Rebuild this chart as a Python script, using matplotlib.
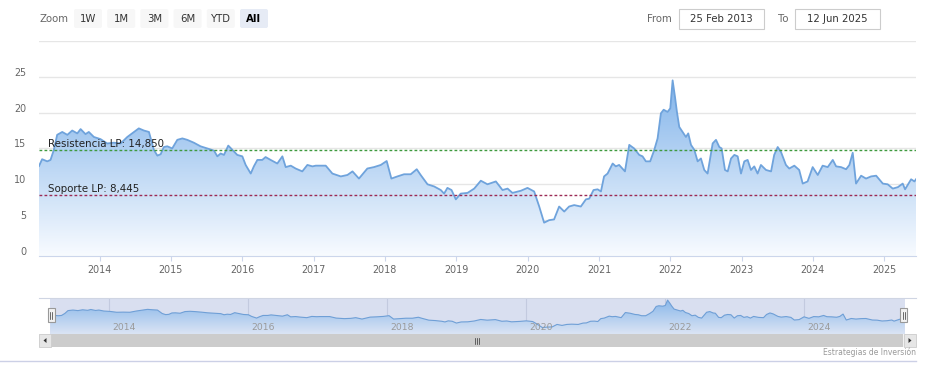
import matplotlib
matplotlib.use('Agg')
import matplotlib.pyplot as plt
import matplotlib.dates as mdates
from matplotlib.colors import LinearSegmentedColormap
from matplotlib.patches import Rectangle, FancyBboxPatch, Polygon
from matplotlib.transforms import ScaledTranslation
import numpy as np
import pandas as pd

# Precio (lectura aproximada del grafico)
dates = ['2013-02-25', '2013-03-13', '2013-04-08', '2013-04-25', '2013-05-12', '2013-05-29',
         '2013-06-24', '2013-07-20', '2013-08-14', '2013-09-09', '2013-09-26', '2013-10-21',
         '2013-11-07', '2013-12-03', '2014-01-06', '2014-02-09', '2014-03-15', '2014-04-19',
         '2014-05-23', '2014-06-26', '2014-07-21', '2014-08-16', '2014-09-11', '2014-10-06',
         '2014-10-24', '2014-11-10', '2014-11-26', '2014-12-14', '2015-01-08', '2015-02-03',
         '2015-03-01', '2015-03-26', '2015-04-29', '2015-06-02', '2015-07-07', '2015-08-10',
         '2015-08-27', '2015-09-13', '2015-09-30', '2015-10-22', '2015-11-12', '2015-12-07',
         '2016-01-02', '2016-01-19', '2016-02-14', '2016-03-01', '2016-03-19', '2016-04-13',
         '2016-04-30', '2016-05-26', '2016-06-29', '2016-07-25', '2016-08-11', '2016-09-06',
         '2016-10-01', '2016-11-04', '2016-11-30', '2016-12-26', '2017-01-12', '2017-03-04',
         '2017-04-07', '2017-05-20', '2017-06-23', '2017-07-19', '2017-08-21', '2017-10-03',
         '2017-11-06', '2017-12-11', '2018-01-10', '2018-02-03', '2018-03-06', '2018-04-09',
         '2018-05-13', '2018-06-13', '2018-07-03', '2018-08-07', '2018-09-10', '2018-10-14',
         '2018-10-31', '2018-11-17', '2018-12-08', '2018-12-30', '2019-01-24', '2019-02-28',
         '2019-04-03', '2019-05-07', '2019-06-10', '2019-07-23', '2019-08-26', '2019-09-21',
         '2019-10-16', '2019-11-28', '2020-01-01', '2020-02-04', '2020-03-01', '2020-03-26',
         '2020-04-21', '2020-05-16', '2020-06-11', '2020-07-07', '2020-08-01', '2020-08-27',
         '2020-09-30', '2020-10-26', '2020-11-12', '2020-12-04', '2020-12-25', '2021-01-11',
         '2021-01-27', '2021-02-14', '2021-03-12', '2021-03-28', '2021-04-14', '2021-05-14',
         '2021-06-05', '2021-06-30', '2021-07-26', '2021-08-12', '2021-08-29', '2021-09-20',
         '2021-10-11', '2021-10-28', '2021-11-14', '2021-11-28', '2021-12-18', '2022-01-01',
         '2022-01-13', '2022-01-25', '2022-02-04', '2022-02-16', '2022-03-05', '2022-03-22',
         '2022-04-03', '2022-04-17', '2022-05-04', '2022-05-21', '2022-06-07', '2022-06-24',
         '2022-07-11', '2022-08-06', '2022-08-23', '2022-09-09', '2022-09-21', '2022-10-08',
         '2022-10-22', '2022-11-08', '2022-11-25', '2022-12-12', '2022-12-29', '2023-01-15',
         '2023-02-01', '2023-02-18', '2023-03-07', '2023-03-24', '2023-04-10', '2023-05-06',
         '2023-06-01', '2023-06-17', '2023-07-05', '2023-07-22', '2023-08-16', '2023-09-02',
         '2023-09-28', '2023-10-23', '2023-11-10', '2023-12-05', '2023-12-31', '2024-01-26',
         '2024-02-20', '2024-03-17', '2024-04-12', '2024-04-29', '2024-05-24', '2024-06-19',
         '2024-07-06', '2024-07-23', '2024-08-09', '2024-09-04', '2024-09-29', '2024-10-25',
         '2024-11-20', '2024-12-24', '2025-01-18', '2025-02-13', '2025-03-11', '2025-04-05',
         '2025-04-17', '2025-05-18', '2025-06-04', '2025-06-12']
prices = [12.55, 13.5, 13.2, 13.4, 14.8, 16.9,
          17.3, 16.9, 17.5, 17.1, 17.7, 17.0,
          17.3, 16.6, 16.3, 15.7, 15.8, 15.7,
          16.6, 17.3, 17.8, 17.5, 17.3, 14.8,
          14.0, 14.2, 15.2, 15.3, 15.0, 16.2,
          16.4, 16.2, 15.8, 15.3, 15.0, 14.7,
          13.9, 14.3, 14.1, 15.4, 14.8, 14.1,
          13.9, 12.7, 11.5, 12.5, 13.4, 13.4,
          13.8, 13.4, 12.9, 13.9, 12.4, 12.6,
          12.2, 11.8, 12.7, 12.5, 12.6, 12.6,
          11.5, 11.1, 11.3, 11.8, 10.8, 12.2,
          12.4, 12.7, 13.25, 10.8, 11.1, 11.4,
          11.4, 12.1, 11.3, 10.0, 9.7, 9.2,
          8.7, 9.5, 9.2, 7.9, 8.7, 8.8,
          9.4, 10.5, 10.0, 10.4, 9.2, 9.4,
          8.8, 9.1, 9.5, 9.0, 6.9, 4.65,
          5.0, 5.1, 6.9, 6.2, 6.9, 7.1,
          6.9, 7.9, 8.0, 9.2, 9.3, 9.0,
          11.1, 11.5, 12.9, 12.5, 12.7, 11.8,
          15.5, 15.0, 14.1, 13.9, 13.2, 13.2,
          14.8, 16.4, 19.9, 20.4, 20.1, 20.6,
          24.5, 22.2, 20.1, 18.0, 17.3, 16.6,
          17.1, 15.5, 14.8, 13.2, 13.6, 12.0,
          11.5, 15.7, 16.2, 15.2, 15.0, 12.0,
          11.8, 13.6, 14.1, 13.9, 11.5, 13.2,
          13.4, 12.0, 12.5, 11.5, 12.7, 12.0,
          11.8, 14.1, 15.2, 14.5, 12.7, 12.2,
          12.6, 12.0, 10.1, 10.4, 12.4, 11.3,
          12.6, 12.4, 13.4, 12.5, 12.4, 12.1,
          12.7, 14.4, 10.1, 11.2, 10.8, 11.1,
          11.2, 10.1, 10.0, 9.4, 9.6, 10.1,
          9.3, 10.7, 10.4, 10.7]

resistencia = 14.850
soporte = 8.445
y_ticks = [0, 5, 10, 15, 20, 25, 30]
y_labels = ['0', '5', '10', '15', '20', '25', '']
nav_years = [2014, 2016, 2018, 2020, 2022, 2024]
zoom_buttons = ['1W', '1M', '3M', '6M', 'YTD', 'All']
date_from = '25 Feb 2013'
date_to = '12 Jun 2025'

W, H = 931, 378
fig = plt.figure(figsize=(W / 100, H / 100), dpi=100)
plt.rcParams['font.family'] = 'DejaVu Sans'


def box(x0, y0, x1, y1):
    # pixel box (top-left origin) -> figure fraction rect
    return [x0 / W, 1 - y1 / H, (x1 - x0) / W, (y1 - y0) / H]


def area(ax, x, y, c_top, c_bot, line_color, lw):
    poly = ax.fill_between(x, y, 0, facecolor='none', edgecolor='none')
    cmap = LinearSegmentedColormap.from_list('area', [c_bot, c_top])
    im = ax.imshow(np.linspace(1, 0, 256).reshape(-1, 1), cmap=cmap, aspect='auto',
                   extent=[x[0], x[-1], 0, max(y)], origin='upper', zorder=2,
                   interpolation='bilinear')
    im.set_clip_path(poly.get_paths()[0], ax.transData)
    ax.plot(x, y, color=line_color, lw=lw, zorder=3, solid_joinstyle='round')


x = mdates.date2num(pd.to_datetime(dates))

# main chart
ax = fig.add_axes(box(39, 40.9, 916, 256))
ax.set_facecolor('none')
area(ax, x, prices, '#82b4ea', '#f8fbff', '#6fa3dc', 1.3)
ax.axhline(resistencia, color='#3f9a3f', lw=1, ls=(0, (2, 1.6)), zorder=4)
ax.axhline(soporte, color='#9c2a55', lw=1, ls=(0, (2, 1.6)), zorder=4)
ax.annotate('Resistencia LP: 14,850', xy=(0, resistencia), xycoords=('axes fraction', 'data'),
            xytext=(6.5, 2), textcoords='offset points', va='baseline', fontsize=7.4,
            color='#222222', zorder=5)
ax.annotate('Soporte LP: 8,445', xy=(0, soporte), xycoords=('axes fraction', 'data'),
            xytext=(6.5, 2.2), textcoords='offset points', va='baseline', fontsize=7.4,
            color='#222222', zorder=5)
ax.set_xlim(x[0], x[-1])
ax.set_ylim(0, 30)
ax.set_yticks(y_ticks, y_labels)
ax.yaxis.grid(True, color='#e6e6e6', lw=1)
ax.set_axisbelow(True)
ax.xaxis.set_major_locator(mdates.YearLocator())
ax.xaxis.set_major_formatter(mdates.DateFormatter('%Y'))
for s in ['top', 'left', 'right']:
    ax.spines[s].set_visible(False)
ax.spines['bottom'].set_color('#ccd6eb')
ax.tick_params(axis='x', length=3.6, color='#ccd6eb', labelcolor='#666666', labelsize=6.9, pad=3)
ax.tick_params(axis='y', length=0, labelcolor='#666666', labelsize=6.9, pad=9)
for lab in ax.get_yticklabels():
    lab.set_transform(lab.get_transform() + ScaledTranslation(0, 0.05, fig.dpi_scale_trans))

# navigator
nav = fig.add_axes(box(50.3, 298, 904.7, 334))
nav.set_facecolor('#d9dff0')
area(nav, x, prices, '#8ab8ea', '#dbe4f4', '#6f9fd6', 0.8)
nav.set_xlim(x[0], x[-1])
nav.set_ylim(0, 26)
nav.set_xticks([])
nav.set_yticks([])
for s in nav.spines.values():
    s.set_visible(False)
for yr in nav_years:
    xv = mdates.date2num(pd.Timestamp(f'{yr}-01-01'))
    nav.axvline(xv, color='#c3cadf', lw=0.8, zorder=1)
    nav.annotate(str(yr), xy=(xv, 0), xycoords=('data', 'axes fraction'), xytext=(2.5, 3),
                 textcoords='offset points', fontsize=6.7, color='#9a9a9a', zorder=4)

# UI overlay (pixel coords)
ui = fig.add_axes([0, 0, 1, 1], zorder=5)
ui.set_xlim(0, W)
ui.set_ylim(H, 0)
ui.axis('off')
ui.patch.set_alpha(0)

ui.text(39, 18.5, 'Zoom', fontsize=7.3, color='#666666', va='center', ha='left')
for i, lab in enumerate(zoom_buttons):
    x0 = 74 + i * 33.2
    sel = lab == 'All'
    ui.add_patch(FancyBboxPatch((x0, 9), 28, 19, boxstyle='round,pad=0,rounding_size=2',
                                fc='#e6ebf5' if sel else '#f7f7f7', ec='none'))
    ui.text(x0 + 14, 18.5, lab, fontsize=7.3, color='#000000' if sel else '#333333',
            fontweight='bold' if sel else 'normal', ha='center', va='center')

ui.text(672, 18.5, 'From', fontsize=7.3, color='#666666', ha='right', va='center')
ui.add_patch(Rectangle((679, 9), 85, 20, fc='white', ec='#cccccc', lw=0.8))
ui.text(721.5, 18.5, date_from, fontsize=7.3, color='#333333', ha='center', va='center')
ui.text(788, 18.5, 'To', fontsize=7.3, color='#666666', ha='right', va='center')
ui.add_patch(Rectangle((795, 9), 85, 20, fc='white', ec='#cccccc', lw=0.8))
ui.text(837.5, 18.5, date_to, fontsize=7.3, color='#333333', ha='center', va='center')

# navigator outline + handles
ui.plot([39, 916], [298, 298], color='#cfd5e3', lw=0.8)
for hx in [47.5, 900]:
    ui.add_patch(Rectangle((hx, 308), 7, 14, fc='#f2f2f2', ec='#999999', lw=0.8))
    ui.plot([hx + 2.5, hx + 2.5], [311.5, 318.5], color='#333333', lw=0.5)
    ui.plot([hx + 4.5, hx + 4.5], [311.5, 318.5], color='#333333', lw=0.5)

# scrollbar
ui.add_patch(Rectangle((39, 334), 877, 13, fc='#f2f2f2', ec='none'))
ui.add_patch(Rectangle((51, 334), 852, 13, fc='#cccccc', ec='none'))
ui.add_patch(Rectangle((39, 334), 12, 13, fc='#e6e6e6', ec='#cccccc', lw=0.6))
ui.add_patch(Rectangle((904, 334), 12, 13, fc='#e6e6e6', ec='#cccccc', lw=0.6))
ui.add_patch(Polygon([[43.5, 340.5], [46.5, 338], [46.5, 343]], closed=True, fc='#333333', ec='none'))
ui.add_patch(Polygon([[911.5, 340.5], [908.5, 338], [908.5, 343]], closed=True, fc='#333333', ec='none'))
for gx in [474.5, 476.5, 478.5]:
    ui.plot([gx, gx], [337.5, 343.5], color='#333333', lw=0.5)

ui.text(916, 352.5, 'Estrategias de Inversión', fontsize=5.5, color='#999999', ha='right', va='center')
ui.plot([0, 916], [360.5, 360.5], color='#ccd0e6', lw=1)

fig.savefig('out.png', dpi=100)
